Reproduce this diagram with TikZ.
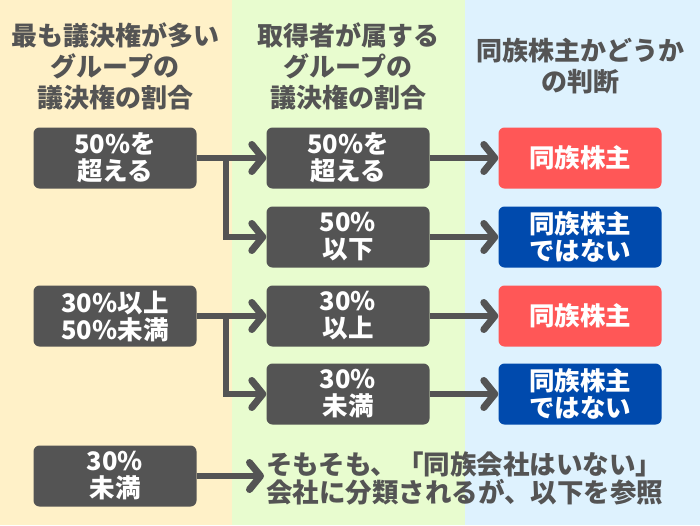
\documentclass[tikz,border=0pt]{standalone}
\usepackage{fontspec}
\setmainfont{Noto Sans CJK JP}
\usepackage{xcolor}
\usetikzlibrary{arrows.meta}

\definecolor{bgleft}{RGB}{255,241,200}
\definecolor{bgmid}{RGB}{232,252,207}
\definecolor{bgright}{RGB}{222,242,254}
\definecolor{boxgray}{RGB}{84,84,84}
\definecolor{famred}{RGB}{255,87,87}
\definecolor{famblue}{RGB}{0,74,173}

\begin{document}
\begin{tikzpicture}[
    x=1pt, y=-1pt,
    every node/.style={align=center, text=boxgray, font=\bfseries\fontsize{26}{31}\selectfont},
    box/.style={rectangle, rounded corners=6pt, fill=boxgray, text=white, inner sep=0pt, minimum width=163pt, minimum height=61pt, font=\bfseries\fontsize{25.5}{27}\selectfont},
    yesbox/.style={box, fill=famred},
    nobox/.style={box, fill=famblue},
    arrow/.style={-{Straight Barb[length=11pt, width=27pt, line width=7pt, round]}, line width=6pt, draw=boxgray}
]
\useasboundingbox (0,0) rectangle (700,525);

% column backgrounds
\fill[bgleft] (0,0) rectangle (232,525);
\fill[bgmid] (232,0) rectangle (465,525);
\fill[bgright] (465,0) rectangle (700,525);

% headers
\node (headleft) at (115,66) {最も議決権が多い\\グループの\\議決権の割合};
\node (headmid) at (348,66) {取得者が属する\\グループの\\議決権の割合};
\node (headright) at (580,66) {同族株主かどうか\\の判断};

% left column
\node[box] (over50) at (115,158) {50\%を\\超える};
\node[box] (mid30) at (115,316) {30\%以上\\50\%未満};
\node[box] (under30) at (115,476) {30\%\\未満};

% middle column
\node[box] (own50over) at (348,158) {50\%を\\超える};
\node[box] (own50under) at (348,237) {50\%\\以下};
\node[box] (own30over) at (348,316) {30\%\\以上};
\node[box] (own30under) at (348,394) {30\%\\未満};

% right column
\node[yesbox] (fam1) at (580,158) {同族株主};
\node[nobox] (notfam1) at (580,237) {同族株主\\ではない};
\node[yesbox] (fam2) at (580,316) {同族株主};
\node[nobox] (notfam2) at (580,394) {同族株主\\ではない};

% note
\node[anchor=west, align=left, inner sep=2pt, font=\bfseries\fontsize{26.5}{28}\selectfont] (note) at (264,478) {そもそも、「同族会社はいない」\\会社に分類されるが、以下を参照};

% connectors
\coordinate (fork1) at (226,158);
\coordinate (fork2) at (226,316);

\draw[arrow] (over50.east) -- (own50over.west);
\draw[arrow] (fork1) |- (own50under.west);
\draw[arrow] (mid30.east) -- (own30over.west);
\draw[arrow] (fork2) |- (own30under.west);
\draw[arrow] (under30.east) -- (under30.east -| note.west);

\draw[arrow] (own50over.east) -- (fam1.west);
\draw[arrow] (own50under.east) -- (notfam1.west);
\draw[arrow] (own30over.east) -- (fam2.west);
\draw[arrow] (own30under.east) -- (notfam2.west);

\end{tikzpicture}
\end{document}
